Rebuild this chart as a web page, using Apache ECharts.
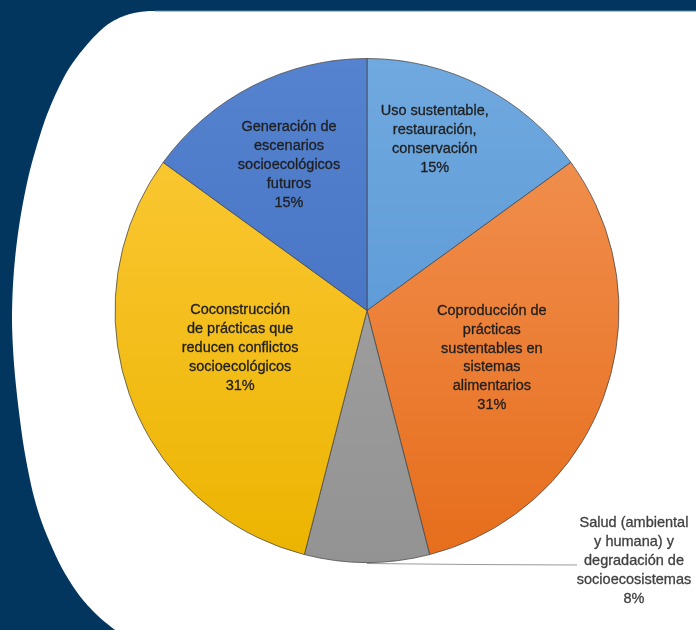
<!DOCTYPE html>
<html>
<head>
<meta charset="utf-8">
<script src="https://cdn.jsdelivr.net/npm/echarts@6/dist/echarts.min.js"></script>
<style>
html,body{margin:0;padding:0;background:#03365f;}
#c{width:696px;height:630px;}
</style>
</head>
<body>
<div id="c"></div>
<script>
// ---- data ----
const categories = [
  "Uso sustentable,\nrestauración,\nconservación",
  "Coproducción de\nprácticas\nsustentables en\nsistemas\nalimentarios",
  "Salud (ambiental\ny humana) y\ndegradación de\nsocioecosistemas",
  "Coconstrucción\nde prácticas que\nreducen conflictos\nsocioecológicos",
  "Generación de\nescenarios\nsocioecológicos\nfuturos"
];
const values = [15, 31, 8, 31, 15];

// ---- style ----
const CX = 367, CY = 310.5, R = 252;
const gradStops = [
  ['#70a9df', '#4f8fd0'],
  ['#f39659', '#e66d1b'],
  ['#a6a6a6', '#939393'],
  ['#fdcb3d', '#ecb400'],
  ['#5583cf', '#3d69bc']
];
const labelRadius = [0.73, 0.53, null, 0.525, 0.655];
const labelShift = [-5.4, 1, 0, 3.3, -1.2];

const total = values.reduce((a, b) => a + b, 0);
const midAngles = [];
let acc = 0;
values.forEach(v => { midAngles.push((acc + v / 2) / total * 360); acc += v; });

const data = categories.map((name, i) => {
  const d = {
    name: name,
    value: values[i],
    itemStyle: {
      color: {
        type: 'linear', global: true, x: 0, y: CY - R, x2: 0, y2: CY + R,
        colorStops: [{offset: 0, color: gradStops[i][0]}, {offset: 1, color: gradStops[i][1]}]
      }
    }
  };
  if (labelRadius[i] === null) {
    d.label = {position: 'outside', color: '#404040', textBorderColor: '#404040'};
    d.labelLine = {show: true};
  } else {
    d.label = {position: 'inside'};
    d.labelLine = {show: false};
  }
  return d;
});

// white panel curved left edge (smoothed with Catmull-Rom sampling)
const edge = [[160,11],[150,11],[140,12],[132,13.5],[124,16],[115,20],[107,25],[101,30],[91,40],[78.5,55],[68,70],[60,85],[53,100],[45,120],[37,145],[30,170],[24.5,195],[20,220],[16.5,245],[14,270],[12.5,295],[12,320],[12.8,345],[14.5,370],[17,395],[20,420],[23.5,445],[28,470],[33.5,495],[41,520],[51,545],[63,570],[79,595],[97,615],[115,630]];
function smoothPoints(pts) {
  const out = [[696, 11]];
  for (let i = 0; i < pts.length - 1; i++) {
    const p0 = pts[Math.max(0, i - 1)], p1 = pts[i], p2 = pts[i + 1], p3 = pts[Math.min(pts.length - 1, i + 2)];
    for (let k = 0; k < 8; k++) {
      const t = k / 8, t2 = t * t, t3 = t2 * t;
      const f = (a, b, c, d) => 0.5 * ((2 * b) + (-a + c) * t + (2 * a - 5 * b + 4 * c - d) * t2 + (-a + 3 * b - 3 * c + d) * t3);
      out.push([f(p0[0], p1[0], p2[0], p3[0]), f(p0[1], p1[1], p2[1], p3[1])]);
    }
  }
  out.push(pts[pts.length - 1]);
  out.push([696, 630]);
  return out;
}

const chart = echarts.init(document.getElementById('c'));
chart.setOption({
  backgroundColor: '#03365f',
  animation: false,
  graphic: [{
    type: 'polygon', z: -10,
    shape: {points: smoothPoints(edge)},
    style: {fill: '#ffffff'}
  }, {
    type: 'line', z: -9,
    shape: {x1: 155, y1: 11, x2: 696, y2: 11},
    style: {stroke: '#5f86a8', lineWidth: 1}
  }],
  series: [{
    type: 'pie',
    center: [CX, CY],
    radius: R,
    startAngle: 90,
    clockwise: true,
    avoidLabelOverlap: false,
    itemStyle: {borderColor: 'rgba(70,70,70,0.75)', borderWidth: 1},
    label: {
      formatter: '{b}\n{c}%',
      fontFamily: 'Liberation Sans, Arial, sans-serif',
      fontSize: 14.5,
      lineHeight: 18.8,
      color: '#1e1e1e',
      textBorderColor: '#1e1e1e',
      textBorderWidth: 0.3,
      align: 'center'
    },
    labelLine: {lineStyle: {color: '#9a9a9a', width: 1.2}},
    labelLayout: function (p) {
      const i = p.dataIndex;
      if (labelRadius[i] === null) {
        const a = midAngles[i] * Math.PI / 180;
        const sx = CX + R * Math.sin(a), sy = CY - R * Math.cos(a);
        return {
          x: 634, y: 561, align: 'center', verticalAlign: 'middle',
          labelLinePoints: [[sx, sy + 1], [sx + 105, sy + 2], [577, 565]]
        };
      }
      const a = (midAngles[i] + labelShift[i]) * Math.PI / 180;
      return {
        x: CX + labelRadius[i] * R * Math.sin(a),
        y: CY - labelRadius[i] * R * Math.cos(a),
        align: 'center', verticalAlign: 'middle'
      };
    },
    data: data
  }]
});
</script>
</body>
</html>
